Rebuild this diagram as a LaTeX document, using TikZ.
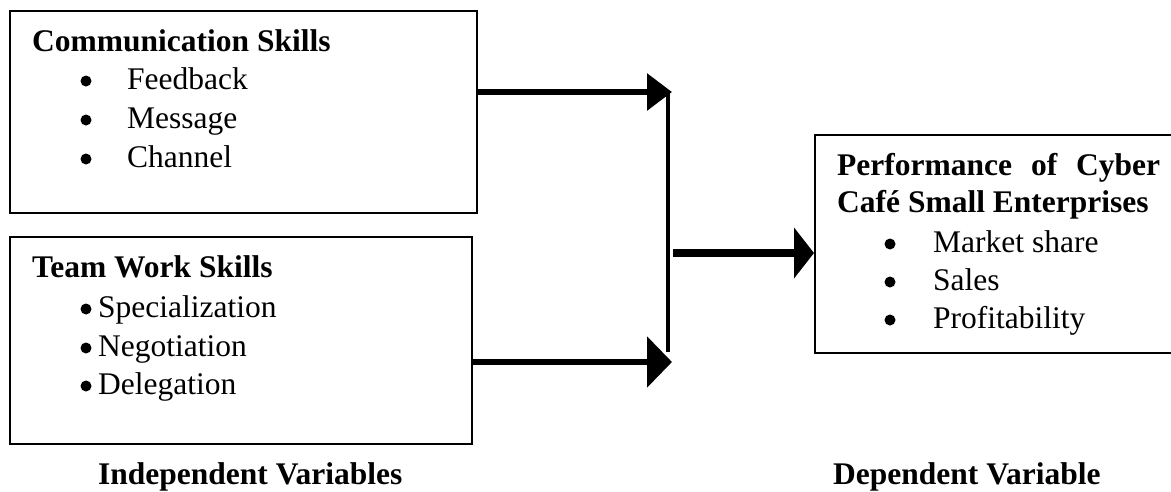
\documentclass[tikz,border=0pt]{standalone}
\usepackage{fontspec}
\setmainfont{Liberation Serif}
\usetikzlibrary{arrows.meta}
\begin{document}
\begin{tikzpicture}[x=1pt,y=-1pt,
  box/.style={draw, line width=2pt, anchor=north west, inner sep=0pt},
  lbl/.style={anchor=base west, inner sep=0pt, font=\fontsize{31.5}{31.5}\selectfont},
  hd/.style={anchor=base west, inner sep=0pt, font=\fontsize{31.5}{31.5}\selectfont\bfseries},
  bul/.style={circle, fill, inner sep=0pt, minimum size=11pt},
  arrA/.style={line width=6pt, -{Triangle[length=25pt,width=36pt]}},
  arrB/.style={line width=6pt, -{Triangle[length=25pt,width=50pt]}},
  arrC/.style={line width=8pt, -{Triangle[length=20pt,width=50pt]}},
]
\clip (0,0) rectangle (1171,491);
% boxes
\node[box, minimum width=467pt, minimum height=202pt] (b1) at (9,10) {};
\node[box, minimum width=462pt, minimum height=207pt] (b2) at (9,236) {};
\node[box, minimum width=376pt, minimum height=218pt] (b3) at (814,134) {};
% box 1 text
\node[hd] (t1) at (32,51) {Communication Skills};
\node[bul] (p11) at (86,81) {};
\node[lbl] (i11) at (127,89) {Feedback};
\node[bul] (p12) at (86,120) {};
\node[lbl] (i12) at (127,128) {Message};
\node[bul] (p13) at (86,159) {};
\node[lbl] (i13) at (127,167) {Channel};
% box 2 text
\node[hd] (t2) at (32,277) {Team Work Skills};
\node[bul] (p21) at (86,309) {};
\node[lbl] (i21) at (98,317) {Specialization};
\node[bul] (p22) at (86,348) {};
\node[lbl] (i22) at (98,356) {Negotiation};
\node[bul] (p23) at (86,386) {};
\node[lbl] (i23) at (98,394) {Delegation};
% box 3 text
\node[hd] (t3a) at (837,175) {\makebox[323pt][s]{Performance of Cyber}};
\node[hd] (t3b) at (837,212) {Café Small Enterprises};
\node[bul] (p31) at (890,244) {};
\node[lbl] (i31) at (933,252) {Market share};
\node[bul] (p32) at (890,282) {};
\node[lbl] (i32) at (933,290) {Sales};
\node[bul] (p33) at (890,320) {};
\node[lbl] (i33) at (933,328) {Profitability};
% captions
\node[hd] (c1) at (98,484) {Independent Variables};
\node[hd] (c2) at (833,484) {Dependent Variable};
% connectors
\coordinate (j1) at (672,92);
\coordinate (j2) at (672,362);
\coordinate (vt) at (668,92);
\coordinate (vb) at (668,352);
\coordinate (m0) at (673,253);
\draw[arrA] (b1.east |- j1) -- (j1);
\draw[arrB] (b2.east |- j2) -- (j2);
\draw[line width=4pt] (vt) -- (vb);
\draw[arrC] (m0) -- (b3.west |- m0);
\end{tikzpicture}
\end{document}
